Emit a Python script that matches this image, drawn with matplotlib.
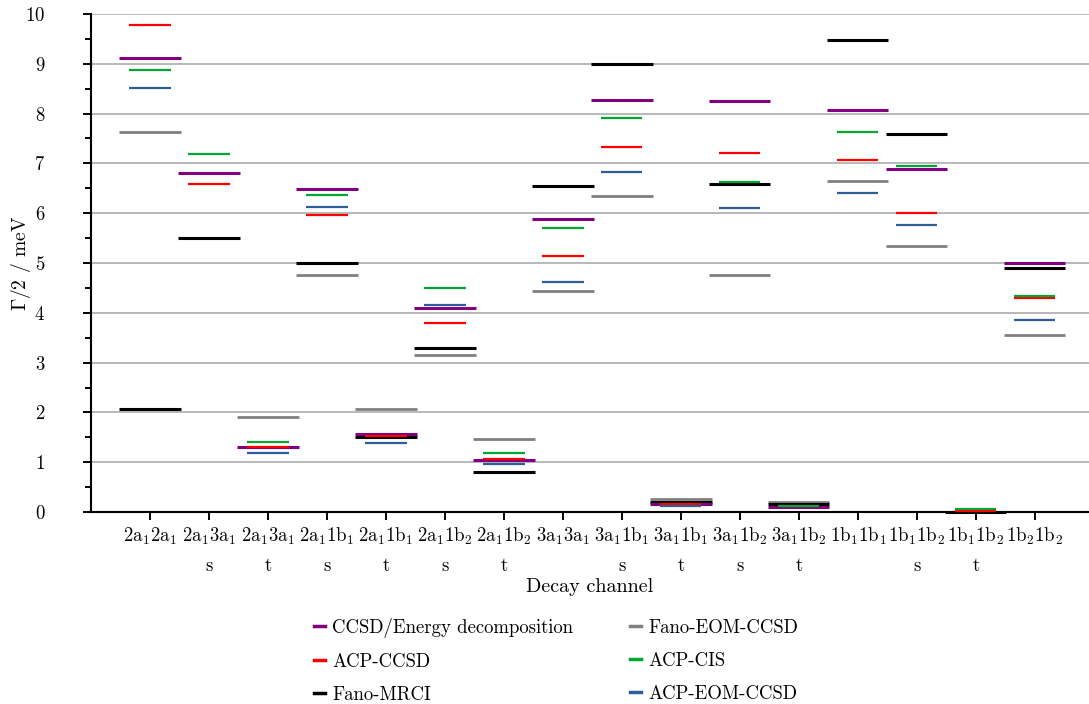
import matplotlib
matplotlib.use("Agg")
import matplotlib.pyplot as plt
import numpy as np
from matplotlib.ticker import MultipleLocator

plt.rcParams['font.family'] = 'cmr10'
plt.rcParams['mathtext.fontset'] = 'cm'
plt.rcParams['axes.formatter.use_mathtext'] = True

# Decay channels (s/t = singlet/triplet)
channels = ["2a$_1$2a$_1$", "2a$_1$3a$_1$\ns", "2a$_1$3a$_1$\nt", "2a$_1$1b$_1$\ns",
            "2a$_1$1b$_1$\nt", "2a$_1$1b$_2$\ns", "2a$_1$1b$_2$\nt", "3a$_1$3a$_1$",
            "3a$_1$1b$_1$\ns", "3a$_1$1b$_1$\nt", "3a$_1$1b$_2$\ns", "3a$_1$1b$_2$\nt",
            "1b$_1$1b$_1$", "1b$_1$1b$_2$\ns", "1b$_1$1b$_2$\nt", "1b$_2$1b$_2$"]

nan = np.nan
# Gamma/2 in meV per method
ccsd_energy = [9.12, 6.80, 1.31, 6.48, 1.57, 4.10, 1.04, 5.88, 8.28, 0.17, 8.26, 0.10, 8.08, 6.89, nan, 5.00]
fano_eom    = [7.64, nan, 1.91, 4.75, 2.06, 3.16, 1.46, 4.44, 6.34, 0.27, 4.75, 0.21, 6.64, 5.35, nan, 3.55]
acp_ccsd    = [9.78, 6.59, 1.30, 5.97, 1.52, 3.79, 1.07, 5.14, 7.33, 0.17, 7.21, 0.13, 7.06, 6.01, 0.02, 4.30]
acp_cis     = [8.88, 7.19, 1.40, 6.37, nan, 4.50, 1.19, 5.71, 7.91, nan, 6.63, 0.13, 7.64, 6.95, 0.06, 4.33]
fano_mrci   = [2.06, 5.50, nan, 4.99, 1.51, 3.30, 0.81, 6.54, 8.99, 0.21, 6.59, 0.17, 9.48, 7.59, 0.00, 4.90]
acp_eom     = [8.51, nan, 1.18, 6.13, 1.38, 4.16, 0.97, 4.62, 6.83, 0.13, 6.10, nan, 6.41, 5.76, nan, 3.86]

# label, values, colour, half width, line width, zorder
series = [
    ("CCSD/Energy decomposition", ccsd_energy, "#800080", 0.52, 2.2, 4),
    ("ACP-CCSD", acp_ccsd, "#ff0000", 0.35, 1.6, 5),
    ("Fano-MRCI", fano_mrci, "#000000", 0.52, 2.2, 3),
    ("Fano-EOM-CCSD", fano_eom, "#808080", 0.52, 2.0, 2),
    ("ACP-CIS", acp_cis, "#00a833", 0.35, 1.6, 6),
    ("ACP-EOM-CCSD", acp_eom, "#2e5e99", 0.35, 1.6, 7),
]

fig = plt.figure(figsize=(10.89, 7.04), dpi=100)
ax = fig.add_axes([91/1089, 192/704, 1 - 91/1089, 498/704])

x = np.arange(1, len(channels) + 1)
for label, vals, color, hw, lw, z in series:
    v = np.array(vals, dtype=float)
    ok = ~np.isnan(v)
    ax.hlines(v[ok], x[ok] - hw, x[ok] + hw, colors=color, lw=lw, zorder=z, clip_on=False)
    ax.plot([], [], color=color, lw=2.5, label=label)

ax.set_xlim(0, 16.92)
ax.set_ylim(0, 10)
ax.set_xticks(x)
ax.set_xticklabels(channels, fontsize=13.5, linespacing=1.75)
ax.yaxis.set_major_locator(MultipleLocator(1))
ax.yaxis.set_minor_locator(MultipleLocator(0.5))
ax.tick_params(axis='y', which='major', length=6, width=1.4, labelsize=13.5, pad=27)
ax.tick_params(axis='y', which='minor', length=4, width=1.4)
ax.tick_params(axis='x', which='major', length=6, width=1.4, pad=4)
for lab in ax.get_yticklabels():
    lab.set_horizontalalignment('right')

ax.yaxis.grid(True, color="#b3b3b3", lw=1.3, zorder=0)
ax.set_axisbelow(True)
for s in ['top', 'right']:
    ax.spines[s].set_visible(False)
for s in ['left', 'bottom']:
    ax.spines[s].set_linewidth(1.5)

ax.set_ylabel(r"$\Gamma$/2 / meV", fontsize=14)
ax.yaxis.set_label_coords(-0.058, 0.5)
ax.set_xlabel("Decay channel", fontsize=14.5)
ax.xaxis.set_label_coords(0.5, -0.133)

fig.legend(loc='upper center', bbox_to_anchor=(556/1089, 1 - 603/704), ncol=2,
           frameon=False, fontsize=13.5, handlelength=0.6, handletextpad=0.4,
           columnspacing=3.0, labelspacing=0.8, borderpad=0.3)

fig.savefig("out.png", dpi=100)
